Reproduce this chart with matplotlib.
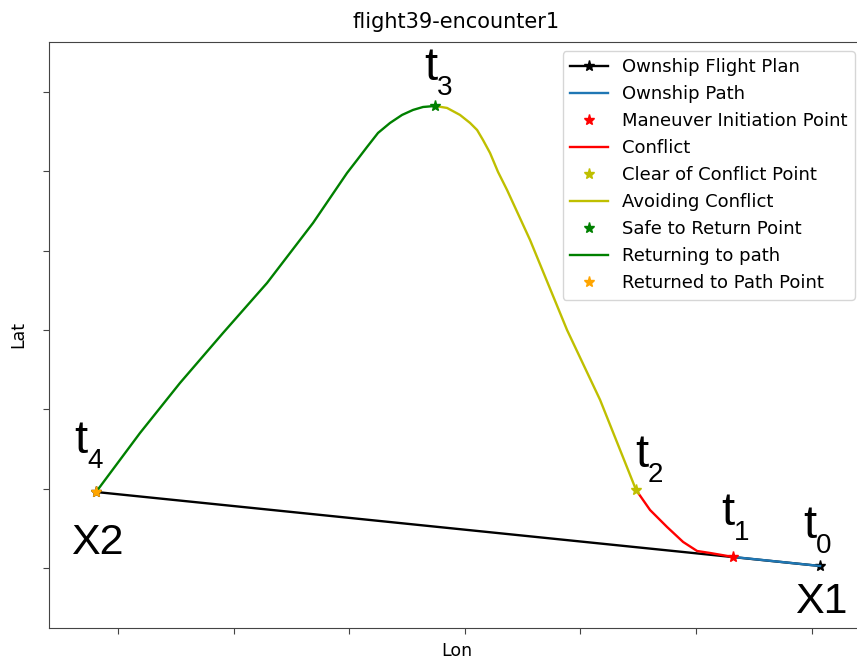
import matplotlib.pyplot as plt

# Relative lon/lat (one unit = one tick step)
plan_lon = [6.073, -0.190]
plan_lat = [0.025, 0.958]

path_lon = [6.073, 5.320]
path_lat = [0.025, 0.139]

conflict_lon = [5.320, 5.121, 5.009, 4.888, 4.749, 4.602, 4.481]
conflict_lat = [0.139, 0.189, 0.214, 0.328, 0.517, 0.731, 0.984]

avoid_lon = [4.481, 4.343, 4.170, 3.884, 3.564, 3.365, 3.287, 3.218, 3.157,
             3.106, 3.045, 2.958, 2.846, 2.742]
avoid_lat = [0.984, 1.488, 2.119, 3.001, 4.136, 4.767, 4.994, 5.233, 5.397,
             5.523, 5.612, 5.713, 5.801, 5.826]

return_lon = [2.742, 2.638, 2.552, 2.457, 2.353, 2.249, 2.154, 2.068, 1.981,
              1.687, 1.289, 0.908, 0.536, 0.190, -0.190]
return_lat = [5.826, 5.813, 5.776, 5.713, 5.612, 5.486, 5.309, 5.145, 4.981,
              4.351, 3.594, 2.963, 2.333, 1.702, 0.958]

maneuver_pt = (5.320, 0.139)
clear_pt = (4.481, 0.984)
safe_pt = (2.742, 5.826)
returned_pt = (-0.190, 0.958)
start_pt = (plan_lon[0], plan_lat[0])

fig = plt.figure(figsize=(8.57, 6.63), dpi=100)
ax = fig.add_axes([0.0572, 0.0528, 0.951, 0.8839])

lw = 1.7
ms = 8
ax.plot(plan_lon, plan_lat, color='k', marker='*', markersize=ms, lw=lw, label='Ownship Flight Plan')
ax.plot(path_lon, path_lat, color='C0', lw=lw, label='Ownship Path')
ax.plot(*maneuver_pt, color='red', marker='*', markersize=ms, ls='none', label='Maneuver Initiation Point')
ax.plot(conflict_lon, conflict_lat, color='red', lw=lw, label='Conflict')
ax.plot(*clear_pt, color='y', marker='*', markersize=ms, ls='none', label='Clear of Conflict Point')
ax.plot(avoid_lon, avoid_lat, color='y', lw=lw, label='Avoiding Conflict')
ax.plot(*safe_pt, color='g', marker='*', markersize=ms, ls='none', label='Safe to Return Point')
ax.plot(return_lon, return_lat, color='g', lw=lw, label='Returning to path')
ax.plot(*returned_pt, color='orange', marker='*', markersize=ms, ls='none', label='Returned to Path Point')


def t_label(pt, k, dx, dy):
    # dx, dy: pixel offset of the t/subscript joint (subscript baseline) from the point
    off = (dx * 0.72, dy * 0.72)
    ax.annotate('t', pt, xytext=(off[0], off[1] + 15 * 0.72), textcoords='offset points',
                ha='right', va='baseline', fontsize=34, family='Liberation Sans')
    ax.annotate(str(k), pt, xytext=off, textcoords='offset points',
                ha='left', va='baseline', fontsize=20, family='Liberation Sans')


def x_label(pt, s, dx, dy):
    ax.annotate(s, pt, xytext=(dx * 0.72, -dy * 0.72), textcoords='offset points',
                ha='center', va='top', fontsize=31, family='Liberation Sans')


t_label(start_pt, 0, -4, 13)
t_label(maneuver_pt, 1, 1, 17)
t_label(clear_pt, 2, 12, 8)
t_label(safe_pt, 3, 2, 11)
t_label(returned_pt, 4, -9, 24)
x_label(start_pt, 'X1', 1, 16)
x_label(returned_pt, 'X2', 1, 31)

ax.set_xlim(-0.597, 6.453)
ax.set_ylim(-0.757, 6.633)
ax.set_xticks(range(7))
ax.set_yticks(range(7))
ax.tick_params(labelbottom=False, labelleft=False, length=4, color='#444444')
for s in ax.spines.values():
    s.set_color('#444444')

ax.set_title('flight39-encounter1', fontsize=15, pad=10)
ax.set_xlabel('Lon', fontsize=12.5, labelpad=6)
ax.set_ylabel('Lat', fontsize=12.5, labelpad=12)
ax.legend(loc='upper right', fontsize=13, handlelength=2.1, labelspacing=0.5)

fig.savefig('out.png', dpi=100)
